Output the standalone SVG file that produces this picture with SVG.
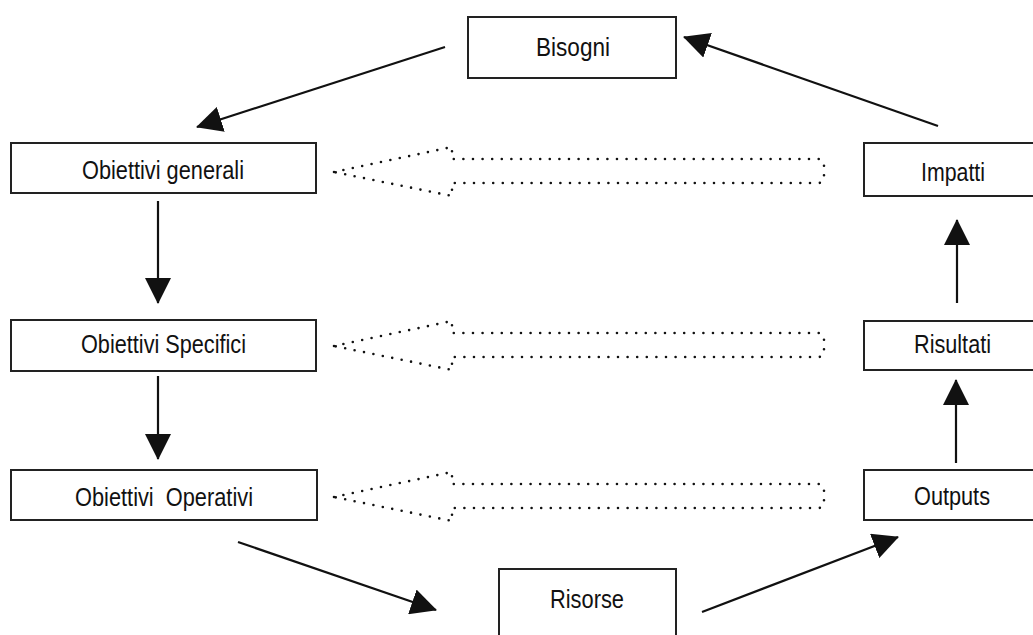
<svg xmlns="http://www.w3.org/2000/svg" xmlns:xlink="http://www.w3.org/1999/xlink" width="1033" height="635" viewBox="0 0 1033 635">
<style>
.box{fill:#fff;stroke:#222;stroke-width:2}
.lbl{font-family:"Liberation Sans",Arial,sans-serif;font-size:25px;fill:#111}
.conn{stroke:#111;stroke-width:2.2;fill:none}
.dot{fill:none;stroke:#111;stroke-width:2.6;stroke-linecap:round;stroke-dasharray:0 9.6}
</style>
<defs>
<marker id="ah" markerUnits="userSpaceOnUse" markerWidth="26" markerHeight="26" viewBox="0 0 26 26" refX="25" refY="13" orient="auto">
<path d="M0,0 L26,13 L0,26 Z" fill="#111"/>
</marker>
<path id="dArrow" d="M334,0 L452,-25 L452,-13 L818,-13 Q824,-13 824,-7 L824,5 Q824,11 818,11 L452,11 L452,24 Z"/>
</defs>
<rect width="1033" height="635" fill="#fff"/>
<g id="connectors">
<line class="conn" x1="445" y1="47" x2="197" y2="127" marker-end="url(#ah)"/>
<line class="conn" x1="158" y1="201" x2="158" y2="303" marker-end="url(#ah)"/>
<line class="conn" x1="158" y1="376" x2="158" y2="459" marker-end="url(#ah)"/>
<line class="conn" x1="238" y1="542" x2="436" y2="610" marker-end="url(#ah)"/>
<line class="conn" x1="702" y1="612" x2="898" y2="537" marker-end="url(#ah)"/>
<line class="conn" x1="956" y1="463" x2="956" y2="380" marker-end="url(#ah)"/>
<line class="conn" x1="957" y1="303" x2="957" y2="220" marker-end="url(#ah)"/>
<line class="conn" x1="938" y1="126" x2="684" y2="37" marker-end="url(#ah)"/>
<use xlink:href="#dArrow" href="#dArrow" class="dot" transform="translate(0,172)"/>
<use xlink:href="#dArrow" href="#dArrow" class="dot" transform="translate(0,346)"/>
<use xlink:href="#dArrow" href="#dArrow" class="dot" transform="translate(0,497)"/>
</g>
<g id="bisogni"><rect class="box" x="468" y="17" width="208" height="61"/><text class="lbl" x="536" y="56" textLength="74" lengthAdjust="spacingAndGlyphs">Bisogni</text></g>
<g id="obiettivi-generali"><rect class="box" x="11" y="143" width="305" height="50"/><text class="lbl" x="82" y="179" textLength="162" lengthAdjust="spacingAndGlyphs">Obiettivi generali</text></g>
<g id="obiettivi-specifici"><rect class="box" x="11" y="320" width="305" height="51"/><text class="lbl" x="81" y="353" textLength="165" lengthAdjust="spacingAndGlyphs">Obiettivi Specifici</text></g>
<g id="obiettivi-operativi"><rect class="box" x="11" y="470" width="306" height="50"/><text class="lbl" x="75" y="506" textLength="178" lengthAdjust="spacingAndGlyphs" xml:space="preserve">Obiettivi  Operativi</text></g>
<g id="impatti"><rect class="box" x="864" y="143" width="200" height="53"/><text class="lbl" x="921" y="181" textLength="64" lengthAdjust="spacingAndGlyphs">Impatti</text></g>
<g id="risultati"><rect class="box" x="864" y="321" width="200" height="49"/><text class="lbl" x="914" y="353" textLength="77" lengthAdjust="spacingAndGlyphs">Risultati</text></g>
<g id="outputs"><rect class="box" x="864" y="470" width="200" height="50"/><text class="lbl" x="914" y="505" textLength="76" lengthAdjust="spacingAndGlyphs">Outputs</text></g>
<g id="risorse"><rect class="box" x="499" y="569" width="177" height="100"/><text class="lbl" x="550" y="608" textLength="74" lengthAdjust="spacingAndGlyphs">Risorse</text></g>
</svg>
